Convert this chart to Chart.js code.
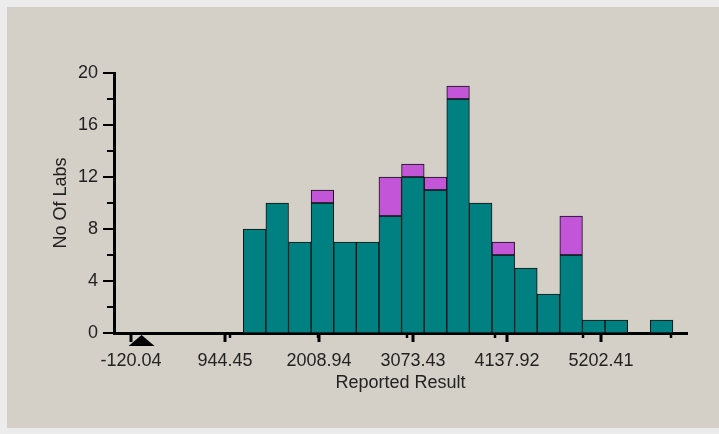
<!DOCTYPE html>
<html>
<head>
<meta charset="utf-8">
<script src="https://cdn.jsdelivr.net/npm/chart.js@4/dist/chart.umd.min.js"></script>
<style>
  html, body { margin: 0; padding: 0; background: #ececec; }
  #panel { position: absolute; left: 7px; top: 7px; width: 712px; height: 421px; background: #d4d0c8; }
  #wrap { position: absolute; left: 0; top: 0; width: 719px; height: 434px; }
</style>
</head>
<body>
<div id="panel"></div>
<div id="wrap"><canvas id="chart" width="719" height="434"></canvas></div>
<script>
/* ── data ───────────────────────────────────────────── */
const binCenters   = [1280, 1536, 1792, 2048, 2304, 2560, 2816, 3072, 3328, 3584,
                      3840, 4096, 4352, 4608, 4864, 5120, 5376, 5632, 5888];
const tealCounts   = [8, 10, 7, 10, 7, 7, 9, 12, 11, 18, 10, 6, 5, 3, 6, 1, 1, 0, 1];
const purpleCounts = [null, null, null, 1, null, null, 3, 1, 1, 1, null, 1, null, null, 3, null, null, null, null];

const xLabelTicks  = [-120.04, 944.45, 2008.94, 3073.43, 4137.92, 5202.41];
const xExtraTicks  = [1000, 2000, 3000, 4000, 5000, 6000];
const yLabelTicks  = [0, 4, 8, 12, 16, 20];
const yMinorTicks  = [2, 6, 10, 14, 18];
const markerValues = [0];

const FONT = "'Liberation Sans', Arial, sans-serif";
const INK  = '#222';

/* ── custom tick marks + marker triangle ────────────── */
const axisMarks = {
  id: 'axisMarks',
  afterDraw(chart) {
    const { ctx, scales: { x, y } } = chart;
    const x0 = y.getPixelForValue(0);
    ctx.save();
    ctx.strokeStyle = '#000';
    ctx.lineCap = 'butt';

    // y ticks, pointing left
    const yl = x.left;
    ctx.lineWidth = 2;
    yLabelTicks.forEach(v => {
      const p = Math.round(y.getPixelForValue(v));
      ctx.beginPath(); ctx.moveTo(yl - 11, p); ctx.lineTo(yl, p); ctx.stroke();
    });
    yMinorTicks.forEach(v => {
      const p = Math.round(y.getPixelForValue(v));
      ctx.beginPath(); ctx.moveTo(yl - 7, p); ctx.lineTo(yl, p); ctx.stroke();
    });

    // x ticks, pointing down
    ctx.lineWidth = 3;
    xLabelTicks.forEach(v => {
      const p = Math.round(x.getPixelForValue(v));
      ctx.beginPath(); ctx.moveTo(p, x0); ctx.lineTo(p, x0 + 9); ctx.stroke();
    });
    ctx.lineWidth = 2.5;
    xExtraTicks.forEach(v => {
      const p = Math.round(x.getPixelForValue(v));
      ctx.beginPath(); ctx.moveTo(p, x0); ctx.lineTo(p, x0 + 5); ctx.stroke();
    });

    // marker triangle under the axis
    ctx.fillStyle = '#000';
    markerValues.forEach(v => {
      const p = x.getPixelForValue(v);
      ctx.beginPath();
      ctx.moveTo(p, x0 + 2);
      ctx.lineTo(p + 13, x0 + 13);
      ctx.lineTo(p - 13, x0 + 13);
      ctx.closePath();
      ctx.fill();
    });
    ctx.restore();
  }
};

new Chart(document.getElementById('chart').getContext('2d'), {
  type: 'bar',
  data: {
    labels: binCenters,
    datasets: [
      {
        label: 'Labs',
        data: binCenters.map((c, i) => ({ x: c, y: tealCounts[i] })),
        backgroundColor: '#008080',
        borderColor: '#111',
        borderWidth: 1,
        borderSkipped: false,
        barPercentage: 1,
        categoryPercentage: 1,
      },
      {
        label: 'Flagged',
        data: binCenters.map((c, i) => ({ x: c, y: purpleCounts[i] })),
        backgroundColor: '#c255d8',
        borderColor: '#111',
        borderWidth: 1,
        borderSkipped: false,
        barPercentage: 1,
        categoryPercentage: 1,
      }
    ]
  },
  options: {
    responsive: false,
    animation: false,
    layout: { padding: { left: 0, right: 32, top: 73, bottom: 0 } },
    plugins: { legend: { display: false }, tooltip: { enabled: false } },
    scales: {
      x: {
        type: 'linear',
        stacked: true,
        offset: false,
        min: -312,
        max: 6176,
        afterBuildTicks: s => { s.ticks = xLabelTicks.map(v => ({ value: v })); },
        afterFit: s => { s.height = 101; },
        grid: { display: false, drawTicks: false, offset: false },
        border: { display: true, color: '#000', width: 3 },
        ticks: {
          autoSkip: false, maxRotation: 0, padding: 17,
          color: INK, font: { family: FONT, size: 18 },
          callback: v => v.toFixed(2)
        },
        title: {
          display: true, text: 'Reported Result', color: INK,
          font: { family: FONT, size: 18 }, padding: { top: 0, bottom: 40 }
        }
      },
      y: {
        stacked: true,
        min: 0,
        max: 20,
        afterBuildTicks: s => { s.ticks = yLabelTicks.map(v => ({ value: v })); },
        afterFit: s => { s.width = 114; },
        grid: { display: false, drawTicks: false },
        border: { display: true, color: '#000', width: 3 },
        ticks: {
          padding: 16, color: INK, font: { family: FONT, size: 18 }
        },
        title: {
          display: true, text: 'No Of Labs', color: INK,
          font: { family: FONT, size: 18 }, padding: { top: 50, bottom: 0 }
        }
      }
    }
  },
  plugins: [axisMarks]
});
</script>
</body>
</html>
